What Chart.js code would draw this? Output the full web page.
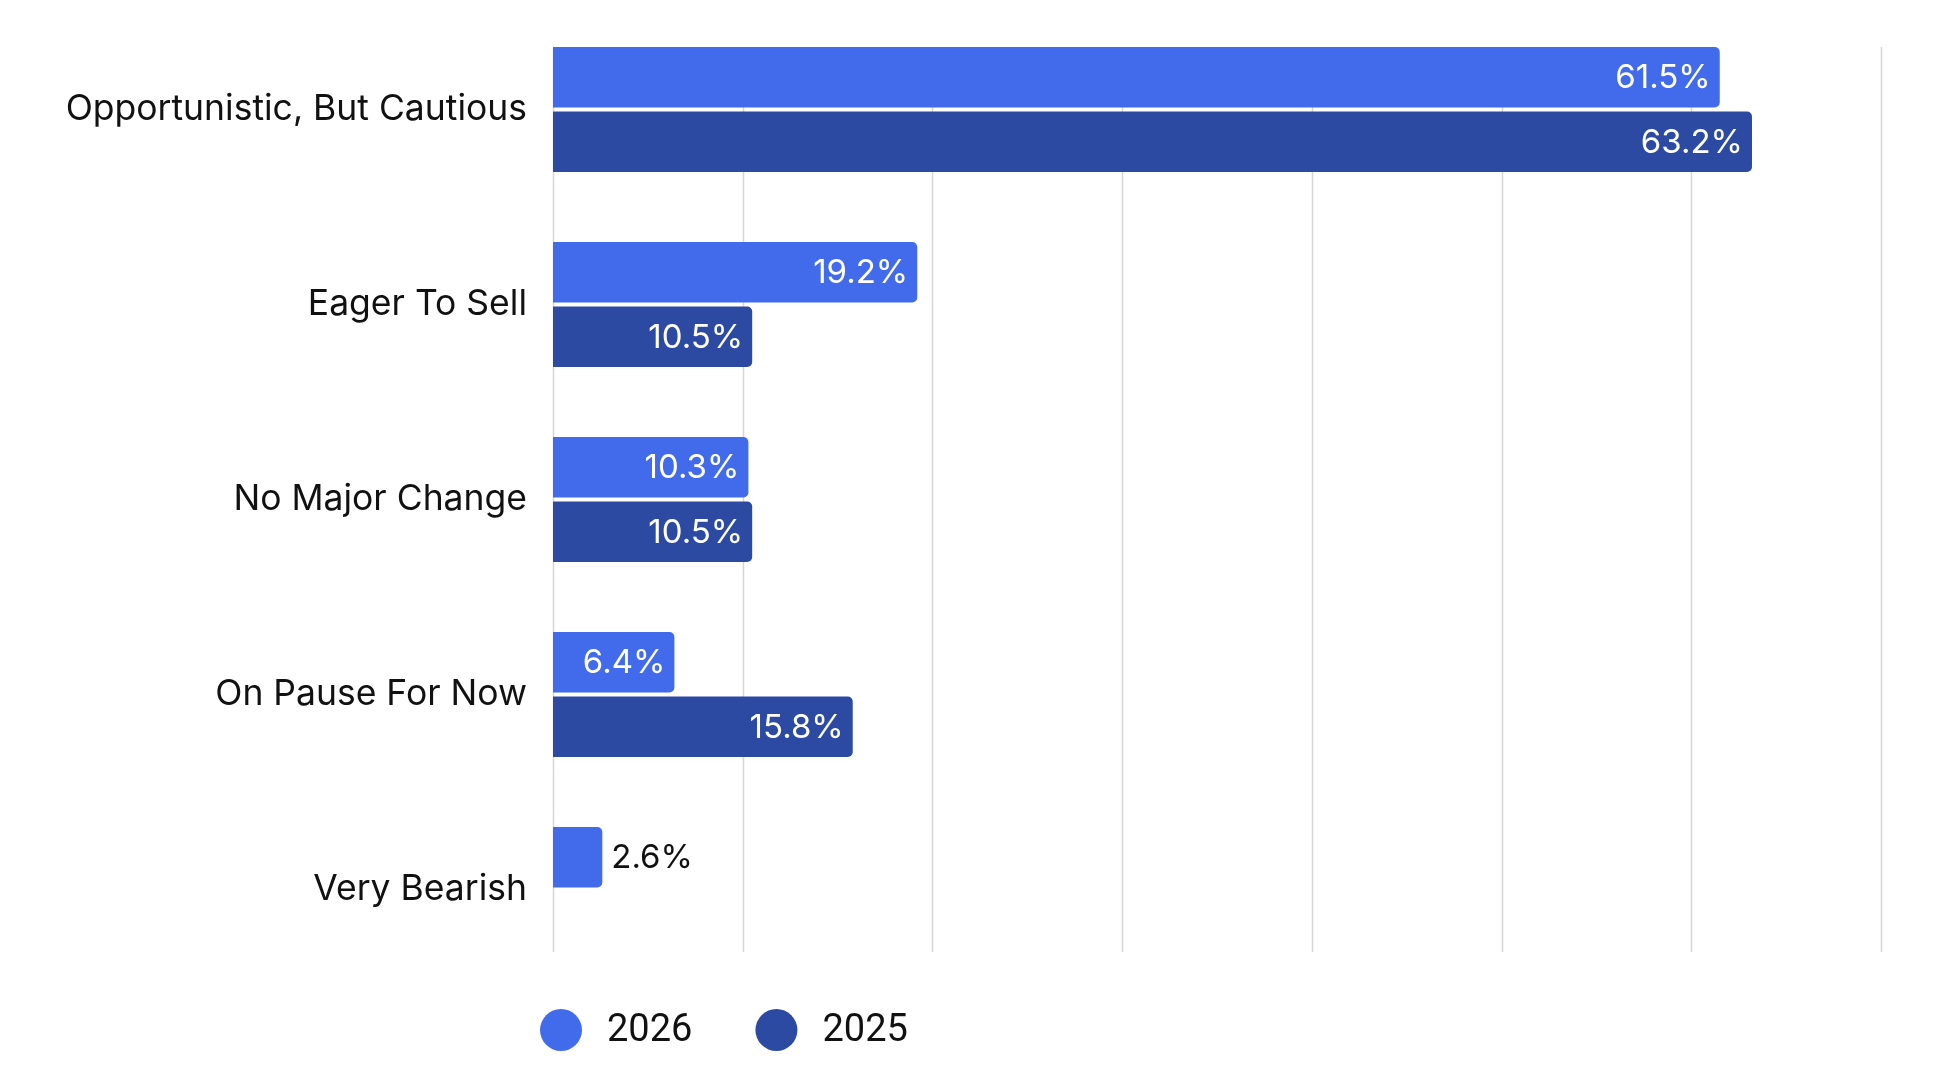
<!DOCTYPE html>
<html><head><meta charset="utf-8">
<script src="https://cdn.jsdelivr.net/npm/chart.js@4.4.1/dist/chart.umd.min.js"></script>
<style>html,body{margin:0;padding:0;background:#fff}canvas{display:block}</style>
</head><body>
<canvas id="c" width="1936" height="1070"></canvas>
<script>
const categories = ['Opportunistic, But Cautious', 'Eager To Sell', 'No Major Change', 'On Pause For Now', 'Very Bearish'];
const seriesNames = ['2026', '2025'];
const values2026 = [61.5, 19.2, 10.3, 6.4, 2.6];
const values2025 = [63.2, 10.5, 10.5, 15.8, null];
const xMin = 0, xMax = 70, xStep = 10;

const LABEL_FONT = 'Inter';
const NUM_FONT = 'Inter';
const LEGEND_FONT = 'Roboto';
const colors = ['#426BEB', '#2D4AA3'];

const gridPlugin = {
  id: 'groupGrid',
  beforeDatasetsDraw(chart) {
    const x = chart.scales.x, y = chart.scales.y;
    const meta = chart.getDatasetMeta(0);
    const first = meta.data[0];
    const top = first.y - first.height / 2;
    const d = y.getPixelForValue(0) - top;
    const bottom = y.getPixelForValue(categories.length - 1) + d;
    const ctx = chart.ctx;
    ctx.save();
    ctx.strokeStyle = '#D6D6D6';
    ctx.lineWidth = 1.5;
    x.ticks.forEach(t => {
      const px = Math.round(x.getPixelForValue(t.value)) + 0.5;
      ctx.beginPath();
      ctx.moveTo(px, top);
      ctx.lineTo(px, bottom);
      ctx.stroke();
    });
    ctx.restore();
  }
};

const labelPlugin = {
  id: 'barLabels',
  afterDatasetsDraw(chart) {
    const ctx = chart.ctx;
    ctx.save();
    ctx.font = '400 33px ' + NUM_FONT;
    ctx.textBaseline = 'middle';
    chart.data.datasets.forEach((ds, di) => {
      const meta = chart.getDatasetMeta(di);
      meta.data.forEach((bar, i) => {
        const v = ds.data[i];
        if (v === null || v === undefined) return;
        const txt = v.toFixed(1) + '%';
        const w = ctx.measureText(txt).width;
        const barW = bar.x - bar.base;
        if (w + 20 <= barW) {
          ctx.fillStyle = '#FFFFFF';
          ctx.textAlign = 'right';
          ctx.fillText(txt, bar.x - 9, bar.y + 1);
        } else {
          ctx.fillStyle = '#111111';
          ctx.textAlign = 'left';
          ctx.fillText(txt, bar.x + 9, bar.y + 1);
        }
      });
    });
    ctx.restore();
  }
};

const legendPlugin = {
  id: 'customLegend',
  afterDraw(chart) {
    const ctx = chart.ctx;
    ctx.save();
    ctx.font = '400 38px ' + LEGEND_FONT;
    ctx.textBaseline = 'middle';
    ctx.textAlign = 'left';
    let x = 540;
    const cy = 1030, r = 21;
    chart.data.datasets.forEach(ds => {
      ctx.fillStyle = ds.backgroundColor;
      ctx.beginPath();
      ctx.arc(x + r, cy, r, 0, Math.PI * 2);
      ctx.fill();
      ctx.fillStyle = '#111111';
      ctx.fillText(ds.label, x + 67, cy + 1);
      x += 67 + ctx.measureText(ds.label).width + 63;
    });
    ctx.restore();
  }
};

new Chart(document.getElementById('c'), {
  type: 'bar',
  data: {
    labels: categories,
    datasets: [
      { label: seriesNames[0], data: values2026, backgroundColor: colors[0] },
      { label: seriesNames[1], data: values2025, backgroundColor: colors[1] }
    ]
  },
  options: {
    indexAxis: 'y',
    responsive: false,
    animation: false,
    devicePixelRatio: 1,
    categoryPercentage: 0.6615,
    barPercentage: 0.938,
    borderRadius: 5,
    borderSkipped: 'start',
    layout: { padding: { top: 12, bottom: 83, left: 0, right: 55 } },
    plugins: { legend: { display: false }, tooltip: { enabled: false } },
    scales: {
      x: {
        min: xMin, max: xMax,
        ticks: { display: false, stepSize: xStep },
        grid: { display: false, drawTicks: false },
        border: { display: false }
      },
      y: {
        ticks: { color: '#111111', font: { family: LABEL_FONT, size: 35.5 }, padding: 26 },
        grid: { display: false, drawTicks: false },
        border: { display: false },
        afterFit(scale) { scale.width = 553; scale.paddingTop = 0; scale.paddingBottom = 0; }
      }
    }
  },
  plugins: [gridPlugin, labelPlugin, legendPlugin]
});
</script>
</body></html>
